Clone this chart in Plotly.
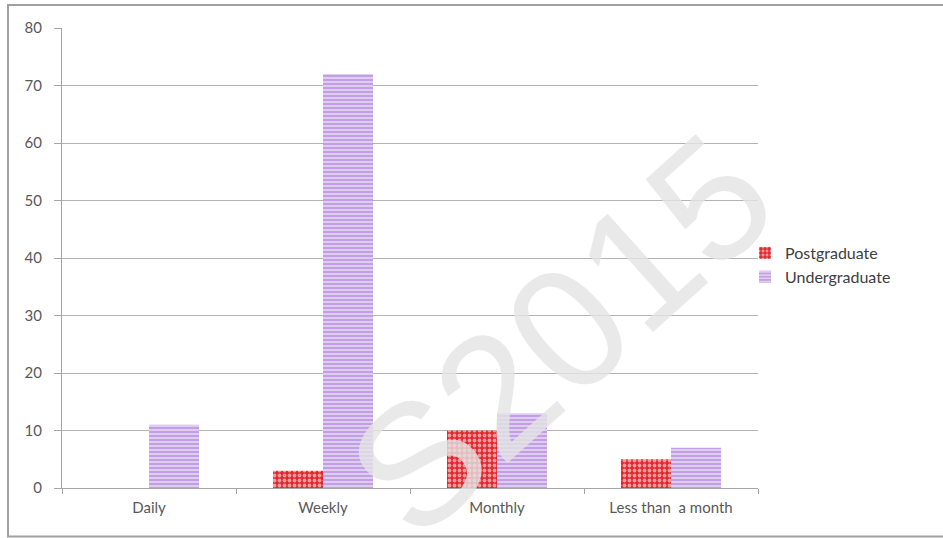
import plotly.graph_objects as go

categories = ["Daily", "Weekly", "Monthly", "Less than  a month"]
postgraduate = [0, 3, 10, 5]
undergraduate = [11, 72, 13, 7]
y_ticks = [0, 10, 20, 30, 40, 50, 60, 70, 80]

fig = go.Figure()
fig.add_trace(go.Bar(
    x=categories, y=postgraduate, name="Postgraduate",
    marker=dict(color="#e0262e", line=dict(width=0),
                pattern=dict(shape=".", fgcolor="#f29a9c", bgcolor="#e0262e",
                             size=5, solidity=0.45, fillmode="replace")),
))
fig.add_trace(go.Bar(
    x=categories, y=undergraduate, name="Undergraduate",
    marker=dict(color="#c29ee4", line=dict(width=0),
                pattern=dict(shape="-", fgcolor="#ece2f7", bgcolor="#c29ee4",
                             size=4, solidity=0.35, fillmode="replace")),
))

L, R, T, B = 62, 758, 28, 488
W, H = 943, 538
pw, ph = R - L, B - T

fig.update_layout(
    width=W, height=H,
    margin=dict(l=L, r=W - R, t=T, b=H - B, pad=0),
    paper_bgcolor="white", plot_bgcolor="white",
    barmode="group", bargap=0.425, bargroupgap=0,
    font=dict(family="Lato, Open Sans, sans-serif", size=14, color="#595959"),
    showlegend=True,
    legend=dict(x=(745 - L) / pw, y=(B - 265) / ph, xanchor="left", yanchor="middle",
                font=dict(size=16, color="#404040"), bgcolor="rgba(0,0,0,0)",
                tracegroupgap=2, itemwidth=30),
    xaxis=dict(type="category", showgrid=False, showline=True, linecolor="#a6a6a6",
               linewidth=1, ticks="outside", tickson="boundaries", ticklen=5,
               tickcolor="#a6a6a6", ticklabelstandoff=6,
               tickfont=dict(size=15, color="#595959")),
    yaxis=dict(range=[0, 80], tickvals=y_ticks, showgrid=True, gridcolor="#b3b3b3",
               gridwidth=1, showline=True, linecolor="#a6a6a6", linewidth=1,
               ticks="outside", ticklen=7, tickcolor="#a6a6a6", zeroline=False,
               ticklabelstandoff=9, tickfont=dict(size=15, color="#595959")),
    shapes=[dict(type="rect", xref="paper", yref="paper",
                 x0=(8 - L) / pw, x1=(946 - L) / pw,
                 y0=(B - 536.5) / ph, y1=(B - 5) / ph,
                 line=dict(color="#a0a0a0", width=2), fillcolor="rgba(0,0,0,0)",
                 layer="below")],
    annotations=[dict(text="S2015", xref="paper", yref="paper",
                      x=(560 - L) / pw, y=(B - 335) / ph, showarrow=False,
                      xanchor="center", yanchor="middle",
                      textangle=-42, font=dict(size=172, color="rgba(228,228,228,0.8)",
                                               family="Liberation Sans"))],
)

fig.write_html("out.html")
